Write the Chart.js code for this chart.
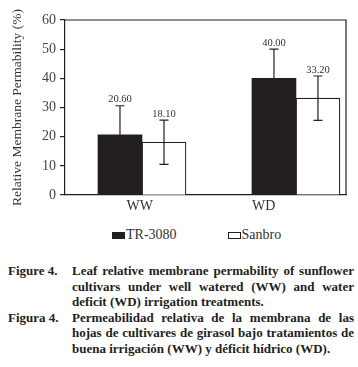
<!DOCTYPE html>
<html>
<head>
<meta charset="utf-8">
<script src="https://cdn.jsdelivr.net/npm/chart.js@4.4.1/dist/chart.umd.min.js"></script>
<style>
  html, body { margin: 0; padding: 0; background: #fff; }
  body { width: 358px; height: 367px; position: relative; overflow: hidden; font-family: "Liberation Serif", "DejaVu Serif", serif; color: #231f20; }
  #wrap { position: absolute; left: 0; top: 0; width: 358px; height: 218px; }
  #legend { position: absolute; left: 112px; top: 226px; height: 18px; display: flex; align-items: center; font-size: 14px; color: #333; }
  #legend .item { display: flex; align-items: center; }
  #legend .item + .item { margin-left: 51px; }
  #legend .box { width: 13px; height: 7px; box-sizing: border-box; margin-right: 1px; }
  #caption { position: absolute; left: 0; top: 263px; width: 358px; font-weight: bold; font-size: 13px; line-height: 15.6px; color: #231f20; }
  .fig { display: flex; }
  .fig .lab { width: 72px; padding-left: 8px; box-sizing: border-box; white-space: nowrap; }
  .fig .body { width: 282px; }
  .fig .body span { display: block; white-space: nowrap; text-align: justify; text-align-last: justify; }
  .fig .body span.last { text-align-last: left; }
</style>
</head>
<body>
<div id="wrap"><canvas id="c"></canvas></div>
<div id="legend"></div>
<div id="caption">
  <div class="fig"><div class="lab">Figure 4.</div><div class="body">
    <span>Leaf relative membrane permability of sunflower</span>
    <span>cultivars under well watered (WW) and water</span>
    <span class="last">deficit (WD) irrigation treatments.</span>
  </div></div>
  <div class="fig"><div class="lab">Figura 4.</div><div class="body">
    <span>Permeabilidad relativa de la membrana de las</span>
    <span>hojas de cultivares de girasol bajo tratamientos de</span>
    <span class="last">buena irrigación (WW) y déficit hídrico (WD).</span>
  </div></div>
</div>
<script>
// treatments and cultivars
const categories = ['WW', 'WD'];
const cultivars = ['TR-3080', 'Sanbro'];
const tr3080 = [20.6, 40.0];
const sanbro = [18.1, 33.2];
// error bar half-lengths
const tr3080Err = [10.0, 10.0];
const sanbroErr = [7.6, 7.6];
const yTicks = [0, 10, 20, 30, 40, 50, 60];

const INK = '#231f20';
const FONT = '"Liberation Serif", "DejaVu Serif", serif';

const series = [
  { label: cultivars[0], values: tr3080, err: tr3080Err, fill: INK },
  { label: cultivars[1], values: sanbro, err: sanbroErr, fill: '#ffffff' },
];

// legend (html, boxes sit tight against the text like in print)
const legendEl = document.getElementById('legend');
series.forEach(s => {
  const it = document.createElement('div');
  it.className = 'item';
  it.innerHTML = `<span class="box" style="background:${s.fill};border:1px solid ${INK}"></span><span>${s.label}</span>`;
  legendEl.appendChild(it);
});

// error bars + value labels
const errorBars = {
  id: 'errorBars',
  afterDatasetsDraw(chart) {
    const { ctx } = chart;
    const y = chart.scales.y;
    ctx.save();
    ctx.strokeStyle = INK;
    ctx.lineWidth = 1.2;
    chart.data.datasets.forEach((ds, di) => {
      const meta = chart.getDatasetMeta(di);
      meta.data.forEach((bar, i) => {
        const v = ds.data[i].y, e = ds.err[i];
        const top = y.getPixelForValue(v + e), bot = y.getPixelForValue(v - e);
        ctx.beginPath();
        ctx.moveTo(bar.x, top); ctx.lineTo(bar.x, bot);
        ctx.moveTo(bar.x - 4.5, top); ctx.lineTo(bar.x + 4.5, top);
        ctx.moveTo(bar.x - 4.5, bot); ctx.lineTo(bar.x + 4.5, bot);
        ctx.stroke();
        ctx.fillStyle = '#333';
        ctx.font = `10.5px ${FONT}`;
        ctx.textAlign = 'center';
        ctx.textBaseline = 'bottom';
        ctx.fillText(v.toFixed(2), bar.x, top - 1);
      });
    });
    ctx.restore();
  }
};

// top and right side of the frame
const frame = {
  id: 'frame',
  afterDraw(chart) {
    const { ctx, chartArea: a } = chart;
    ctx.save();
    ctx.strokeStyle = INK;
    ctx.lineWidth = 1.2;
    ctx.beginPath();
    ctx.moveTo(a.left, a.top); ctx.lineTo(a.right, a.top); ctx.lineTo(a.right, a.bottom);
    ctx.stroke();
    ctx.restore();
  }
};

new Chart(document.getElementById('c'), {
  type: 'bar',
  data: {
    datasets: series.map(s => ({
      label: s.label,
      data: s.values.map((v, i) => ({ x: i + 1, y: v })),
      err: s.err,
      backgroundColor: s.fill,
      borderColor: INK,
      borderWidth: s.fill === INK ? 0 : 1.2,
      barThickness: 44,
    })),
  },
  options: {
    responsive: true,
    maintainAspectRatio: false,
    animation: false,
    layout: { padding: { top: 20, right: 12, left: 0, bottom: 0 } },
    plugins: { legend: { display: false }, tooltip: { enabled: false } },
    scales: {
      x: {
        type: 'linear',
        offset: false, // bar default would pad a linear axis by half its range
        min: 0.5, max: 2.325,
        afterBuildTicks: sc => { sc.ticks = [{ value: 0.985 }, { value: 1.79 }]; },
        afterFit: sc => { sc.height = 23; },
        grid: { display: false, drawTicks: false, offset: false },
        border: { display: true, color: INK, width: 1.2 },
        ticks: {
          padding: 3,
          color: '#333',
          font: { family: FONT, size: 14 },
          callback: (v, i) => categories[i],
        },
      },
      y: {
        min: 0, max: 60,
        afterBuildTicks: sc => { sc.ticks = yTicks.map(v => ({ value: v })); },
        afterFit: sc => { sc.width = 65; },
        grid: { display: true, drawOnChartArea: false, drawTicks: true, tickLength: 5, color: INK, lineWidth: 1.2 },
        border: { display: true, color: INK, width: 1.2 },
        ticks: { padding: 4, color: '#444', font: { family: FONT, size: 14 } },
        title: {
          display: true,
          text: 'Relative Membrane Permability (%)',
          color: '#333',
          font: { family: FONT, size: 13.5, lineHeight: 1.2 },
          padding: { top: 9, bottom: 0 },
        },
      },
    },
  },
  plugins: [errorBars, frame],
});
</script>
</body>
</html>
